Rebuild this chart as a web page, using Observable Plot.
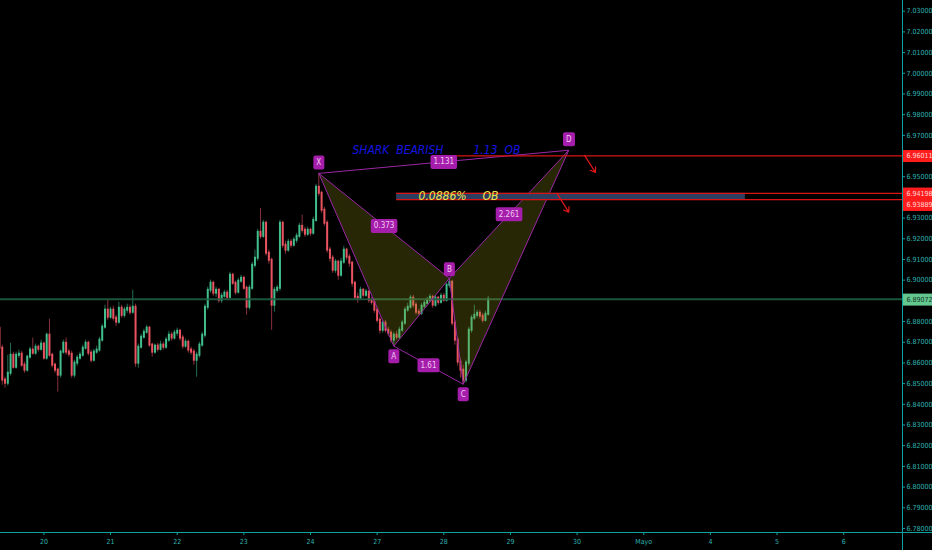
<!DOCTYPE html>
<html><head><meta charset="utf-8">
<script src="https://cdn.jsdelivr.net/npm/d3@7"></script>
<script src="https://cdn.jsdelivr.net/npm/@observablehq/plot@0.6"></script>
<style>
html,body{margin:0;padding:0;background:#000;}
#chart svg{display:block;}
</style></head><body><div id="chart"></div>
<script>
// ---- DATA (hourly candles, index = bar number) ----
const firstOpen = 6.8768;
const closes = [6.8671,6.8517,6.8502,6.8550,6.8637,6.8579,6.8637,6.8642,6.8589,6.8565,
6.8628,6.8662,6.8647,6.8676,6.8666,6.8691,6.8623,6.8734,6.8637,6.8589,
6.8565,6.8541,6.8652,6.8695,6.8652,6.8642,6.8541,6.8599,6.8623,6.8637,
6.8671,6.8695,6.8647,6.8613,6.8652,6.8662,6.8710,6.8773,6.8855,6.8821,
6.8855,6.8816,6.8797,6.8864,6.8830,6.8855,6.8864,6.8845,6.8869,6.8599,
6.8676,6.8724,6.8748,6.8768,6.8686,6.8652,6.8681,6.8666,6.8686,6.8676,
6.8710,6.8734,6.8720,6.8744,6.8753,6.8720,6.8681,6.8700,6.8662,6.8652,
6.8613,6.8637,6.8686,6.8734,6.8869,6.8951,6.8985,6.8937,6.8951,6.8903,
6.8922,6.8937,6.8917,6.9024,6.8985,6.8942,6.8995,6.9009,6.8961,6.8869,
6.8961,6.9072,6.9106,6.9231,6.9212,6.9275,6.9130,6.9096,6.8879,6.8951,
6.8961,6.9275,6.9169,6.9145,6.9183,6.9169,6.9193,6.9212,6.9260,6.9241,
6.9222,6.9241,6.9227,6.9289,6.9449,6.9420,6.9338,6.9275,6.9145,6.9106,
6.9048,6.9087,6.9024,6.9087,6.9145,6.9111,6.9082,6.8985,6.8917,6.8913,
6.8951,6.8927,6.8942,6.8903,6.8893,6.8855,6.8806,6.8758,6.8792,6.8758,
6.8744,6.8710,6.8734,6.8724,6.8758,6.8792,6.8855,6.8869,6.8913,6.8879,
6.8845,6.8840,6.8874,6.8888,6.8903,6.8917,6.8879,6.8913,6.8893,6.8922,
6.8903,6.8975,6.8990,6.8792,6.8710,6.8604,6.8565,6.8517,6.8599,6.8758,
6.8816,6.8830,6.8840,6.8826,6.8806,6.8835,6.8907];
const highs = [6.8797,6.8686,6.8531,6.8637,6.8695,6.8652,6.8652,6.8662,6.8657,6.8604,
6.8637,6.8676,6.8720,6.8691,6.8686,6.8710,6.8700,6.8744,6.8811,6.8647,
6.8599,6.8575,6.8662,6.8710,6.8720,6.8666,6.8657,6.8613,6.8637,6.8652,
6.8686,6.8710,6.8705,6.8662,6.8666,6.8681,6.8724,6.8787,6.8879,6.8903,
6.8869,6.8874,6.8830,6.8893,6.8879,6.8869,6.8884,6.8879,6.8951,6.8884,
6.8691,6.8739,6.8763,6.8782,6.8777,6.8695,6.8691,6.8695,6.8705,6.8700,
6.8724,6.8753,6.8748,6.8758,6.8768,6.8763,6.8734,6.8715,6.8710,6.8676,
6.8666,6.8652,6.8700,6.8748,6.8884,6.8966,6.9000,6.8995,6.8966,6.8961,
6.8937,6.8951,6.8951,6.9038,6.9033,6.8995,6.9009,6.9024,6.9019,6.8971,
6.8975,6.9087,6.9145,6.9246,6.9347,6.9289,6.9285,6.9145,6.9106,6.8966,
6.8975,6.9289,6.9285,6.9188,6.9198,6.9198,6.9207,6.9227,6.9275,6.9314,
6.9256,6.9256,6.9251,6.9304,6.9463,6.9516,6.9429,6.9352,6.9289,6.9159,
6.9120,6.9101,6.9096,6.9106,6.9164,6.9154,6.9125,6.9091,6.8995,6.8937,
6.8966,6.8961,6.8956,6.8951,6.8917,6.8908,6.8869,6.8821,6.8806,6.8806,
6.8773,6.8758,6.8748,6.8753,6.8773,6.8806,6.8869,6.8888,6.8927,6.8927,
6.8893,6.8860,6.8888,6.8903,6.8917,6.8932,6.8927,6.8927,6.8922,6.8937,
6.8937,6.8985,6.9009,6.9000,6.8806,6.8724,6.8623,6.8589,6.8613,6.8773,
6.8830,6.8879,6.8855,6.8855,6.8840,6.8850,6.8922];
const lows = [6.8662,6.8492,6.8478,6.8488,6.8536,6.8570,6.8570,6.8623,6.8579,6.8550,
6.8555,6.8618,6.8637,6.8637,6.8652,6.8657,6.8613,6.8613,6.8628,6.8575,
6.8550,6.8459,6.8526,6.8642,6.8637,6.8628,6.8526,6.8526,6.8584,6.8613,
6.8628,6.8662,6.8633,6.8599,6.8604,6.8642,6.8652,6.8700,6.8763,6.8806,
6.8811,6.8802,6.8777,6.8787,6.8816,6.8816,6.8840,6.8830,6.8835,6.8579,
6.8575,6.8666,6.8715,6.8739,6.8676,6.8628,6.8642,6.8652,6.8657,6.8662,
6.8666,6.8700,6.8705,6.8710,6.8729,6.8705,6.8666,6.8671,6.8647,6.8637,
6.8589,6.8531,6.8623,6.8676,6.8720,6.8855,6.8937,6.8922,6.8917,6.8888,
6.8888,6.8913,6.8903,6.8908,6.8975,6.8927,6.8932,6.8985,6.8951,6.8830,
6.8855,6.8951,6.9058,6.9091,6.9198,6.9202,6.9116,6.9077,6.8758,6.8845,
6.8937,6.8946,6.9154,6.9125,6.9135,6.9154,6.9159,6.9178,6.9202,6.9227,
6.9207,6.9212,6.9212,6.9217,6.9280,6.9405,6.9323,6.9260,6.9130,6.9087,
6.9033,6.9033,6.9000,6.9014,6.9077,6.9096,6.9062,6.8966,6.8903,6.8888,
6.8903,6.8913,6.8917,6.8888,6.8879,6.8840,6.8792,6.8739,6.8744,6.8744,
6.8729,6.8695,6.8681,6.8710,6.8715,6.8748,6.8782,6.8845,6.8860,6.8864,
6.8830,6.8826,6.8830,6.8864,6.8879,6.8893,6.8864,6.8869,6.8879,6.8884,
6.8893,6.8893,6.8961,6.8777,6.8686,6.8584,6.8526,6.8497,6.8502,6.8584,
6.8744,6.8806,6.8816,6.8811,6.8792,6.8797,6.8826];

const dayTickBars   = [16,40,64,88,112,136,160,184,208,232,256,280,304];
const dayTickLabels = ["20","21","22","23","24","27","28","29","30","Mayo","4","5","6"];
const priceTicks = [6.78,6.79,6.80,6.81,6.82,6.83,6.84,6.85,6.86,6.87,6.88,6.90,6.91,6.92,6.93,6.95,6.97,6.98,6.99,7.00,7.01,7.02,7.03];

const patternNames  = ["X","A","B","C","D"];
const patternBars   = [115,142,162,167,205];
const patternPrices = [6.9516,6.8681,6.9009,6.8497,6.9628];
const ratioFrom   = ["X","A","B","X"];
const ratioTo     = ["B","C","D","D"];
const ratioLabels = ["0.373","1.61","2.261","1.131"];

const currentPrice = 6.89072;
const targetLevel = 6.96011, targetStartBar = 161;
const obTop = 6.94198, obBottom = 6.93889, obStartBar = 143, obEndBar = 268.6;

const titleTexts  = ["SHARK  BEARISH", "1.13  OB"];
const titleBars   = [127.1, 170.7];
const titlePrice  = 6.9627;
const obTexts     = ["0.0886%", "OB"];
const obTextBars  = [150.9, 173.9];
const obTextPrice = 6.9406;

const arrowX1 = [210.7, 200.8], arrowY1 = [6.9603, 6.9418];
const arrowX2 = [214.6, 205.0], arrowY2 = [6.9521, 6.9329];

// ---- derived tables ----
const candles = closes.map((c, i) => ({i, o: i ? closes[i-1] : firstOpen, h: highs[i], l: lows[i], c}));
const pt = Object.fromEntries(patternNames.map((n, k) => [n, {name: n, x: patternBars[k], y: patternPrices[k]}]));
const triangles = [
  ...["X","A","B","X"].map(n => ({...pt[n], tri: "XAB"})),
  ...["B","C","D","B"].map(n => ({...pt[n], tri: "BCD"}))
];
const ratios = ratioLabels.map((t, k) => ({t,
  x: (pt[ratioFrom[k]].x + pt[ratioTo[k]].x) / 2,
  y: (pt[ratioFrom[k]].y + pt[ratioTo[k]].y) / 2}));
const extraLinks = [["X","D"],["A","C"]].map(([a,b]) => ({x1: pt[a].x, y1: pt[a].y, x2: pt[b].x, y2: pt[b].y}));
const arrows = arrowX1.map((_, k) => ({x1: arrowX1[k], y1: arrowY1[k], x2: arrowX2[k], y2: arrowY2[k]}));

const xDomain = [0.371, 325.18];
const yDomain = [6.77804, 7.03517];

const UP = "#41be8c", DOWN = "#ea5461", UPW = "#236f50", DOWNW = "#86303a";
const PURPLE = "#9b27a5", AXIS = "#0fa0a0", AXTXT = "#2fb0b0", RED = "#d81414";
const FONT = "'DejaVu Sans Condensed', 'DejaVu Sans', sans-serif";
const TAGTXT = "#f2c6f2";

const chart = Plot.plot({
  width: 932, height: 550,
  marginLeft: 0, marginRight: 30, marginTop: 0, marginBottom: 18,
  style: {background: "#000", fontFamily: FONT, fontSize: "7px", color: AXTXT, overflow: "visible"},
  x: {domain: xDomain, axis: null},
  y: {domain: yDomain, axis: null},
  marks: [
    // candles
    Plot.ruleX(candles, {x: "i", y1: "l", y2: "h", stroke: d => d.c >= d.o ? UPW : DOWNW, strokeWidth: 1}),
    Plot.ruleX(candles, {x: "i", y1: "o", y2: "c", stroke: d => d.c >= d.o ? UP : DOWN, strokeWidth: 2, strokeLinecap: "square"}),
    // current price line
    Plot.ruleY([currentPrice], {stroke: "#1f5e42", strokeWidth: 2, strokeOpacity: 0.9}),
    // harmonic pattern
    Plot.line(triangles, {x: "x", y: "y", z: "tri", fill: "#9a9a18", fillOpacity: 0.25, stroke: PURPLE, strokeWidth: 1, curve: "linear"}),
    Plot.link(extraLinks, {x1: "x1", y1: "y1", x2: "x2", y2: "y2", stroke: PURPLE, strokeWidth: 1}),
    // OB zone
    Plot.rect([0], {x1: obStartBar, x2: obEndBar, y1: obBottom, y2: obTop, fill: "#2c3f60"}),
    Plot.ruleY([obTop, obBottom], {x1: obStartBar, x2: xDomain[1], stroke: RED, strokeWidth: 1.2}),
    Plot.ruleY([targetLevel], {x1: targetStartBar, x2: xDomain[1], stroke: RED, strokeWidth: 1.2}),
    Plot.arrow(arrows, {x1: "x1", y1: "y1", x2: "x2", y2: "y2", stroke: "#e01818", strokeWidth: 1.2, headLength: 7, headAngle: 70}),
    // annotation text
    Plot.text(titleTexts, {x: (d, k) => titleBars[k], y: () => titlePrice, text: d => d, textAnchor: "start", fill: "#1414e0", fontSize: 12, fontStyle: "italic", fontFamily: FONT}),
    Plot.text(obTexts, {x: (d, k) => obTextBars[k], y: () => obTextPrice, text: d => d, textAnchor: "start", fill: "#ece44c", fontSize: 12, fontStyle: "italic", fontFamily: FONT}),
    // point tags
    Plot.text(["X","D"].map(n => pt[n]), {x: "x", y: "y", text: "name", dy: -11, fill: TAGTXT, fontSize: 8, ariaDescription: "tag"}),
    Plot.text(["B"].map(n => pt[n]), {x: "x", y: "y", text: "name", dy: -9, fill: TAGTXT, fontSize: 8, ariaDescription: "tag"}),
    Plot.text(["A","C"].map(n => pt[n]), {x: "x", y: "y", text: "name", dy: 10, fill: TAGTXT, fontSize: 8, ariaDescription: "tag"}),
    Plot.text(ratios, {x: "x", y: "y", text: "t", fill: TAGTXT, fontSize: 8, ariaDescription: "tag"}),
    // axes
    Plot.axisY({anchor: "right", ticks: priceTicks, tickFormat: d3.format(".5f"), tickSize: 2, tickPadding: 2, stroke: AXIS, fill: AXTXT, fontSize: 7}),
    Plot.axisX({anchor: "bottom", ticks: dayTickBars, tickFormat: d => dayTickLabels[dayTickBars.indexOf(d)], tickSize: 3, tickPadding: 4, stroke: AXIS, fill: AXTXT, fontSize: 7}),
    // price tags on axis
    Plot.text([targetLevel, obTop], {y: d => d, text: d => d3.format(".5f")(d), frameAnchor: "right", dx: 4, textAnchor: "start", fill: "#ffd8d8", fontSize: 7, ariaDescription: "ptag-red"}),
    Plot.text([obBottom], {y: d => d, text: d => d3.format(".5f")(d), frameAnchor: "right", dx: 4, dy: 5, textAnchor: "start", fill: "#ffd8d8", fontSize: 7, ariaDescription: "ptag-red"}),
    Plot.text([currentPrice], {y: d => d, text: d => d3.format(".5f")(d), frameAnchor: "right", dx: 4, textAnchor: "start", fill: "#143322", fontSize: 7, ariaDescription: "ptag-green"})
  ]
});
document.getElementById("chart").appendChild(chart);

const NS = "http://www.w3.org/2000/svg";
const svg = d3.select(chart);
const W = 932, H = 550;
const xs = chart.scale("x"), ys = chart.scale("y");
const axisX = xs.range[1], axisYpos = ys.range[0];

// axis lines spanning full width / height
svg.append("line").attr("x1", 0).attr("x2", W).attr("y1", axisYpos + 0.5).attr("y2", axisYpos + 0.5).attr("stroke", AXIS).attr("stroke-width", 1);
svg.append("line").attr("x1", axisX + 0.5).attr("x2", axisX + 0.5).attr("y1", 0).attr("y2", H).attr("stroke", AXIS).attr("stroke-width", 1);

// boxes behind tags
function boxes(label, fill, padX, padY, toEdge) {
  chart.querySelectorAll(`g[aria-description="${label}"]`).forEach(g => {
    g.querySelectorAll("text").forEach(t => {
      const b = t.getBBox();
      const r = document.createElementNS(NS, "rect");
      let x = b.x - padX, w = b.width + 2 * padX;
      if (toEdge) {
        const inv = t.getCTM().inverse();
        const p0 = new DOMPoint(axisX + 1, 0).matrixTransform(inv);
        const p1 = new DOMPoint(W, 0).matrixTransform(inv);
        x = p0.x; w = p1.x - p0.x;
      }
      r.setAttribute("x", x); r.setAttribute("y", b.y - padY);
      r.setAttribute("width", w); r.setAttribute("height", b.height + 2 * padY);
      r.setAttribute("rx", toEdge ? 0 : 2);
      r.setAttribute("fill", fill);
      const tr = t.getAttribute("transform");
      if (tr) r.setAttribute("transform", tr);
      t.parentNode.insertBefore(r, t);
    });
  });
}
boxes("tag", "#a51eab", 3, 2.5, false);
boxes("ptag-red", "#ff1c1c", 0, 2, true);
boxes("ptag-green", "#63c890", 0, 2, true);
["ptag-red","ptag-green"].forEach(l => chart.querySelectorAll(`g[aria-description="${l}"]`).forEach(g => chart.appendChild(g)));
</script>
</body></html>
